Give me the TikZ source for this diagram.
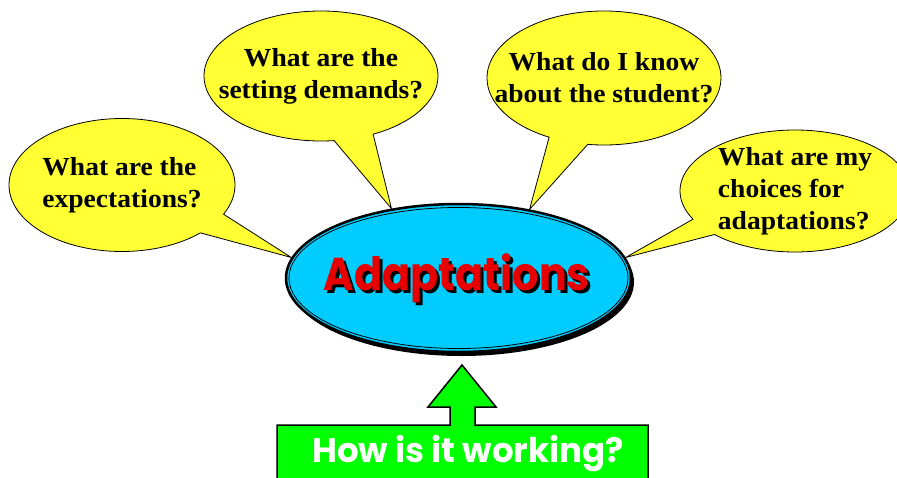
\documentclass[tikz,border=0pt]{standalone}
\usepackage{fontspec}
\setmainfont{Liberation Serif}[FakeStretch=1.06]
\newfontfamily\funfont{Poppins}[FakeStretch=0.9]
\newfontfamily\boxfont{Poppins}
\usetikzlibrary{shapes.geometric,shapes.callouts,shadows,backgrounds}
\definecolor{bubbleyellow}{RGB}{255,255,51}
\definecolor{hubcyan}{RGB}{0,204,255}
\definecolor{hubred}{RGB}{230,0,0}
\definecolor{boxgreen}{RGB}{0,255,0}

\begin{document}
\begin{tikzpicture}
[x=1pt,y=-1pt,
bubble/.style={ellipse callout,draw=black,line width=0.8pt,fill=bubbleyellow,inner xsep=-40pt,inner ysep=-20pt,
  font=\fontsize{26}{32}\selectfont\bfseries,callout pointer arc=20},
hub/.style={ellipse,draw=black,line width=2.5pt,fill=hubcyan,minimum width=345pt,minimum height=148pt,
  drop shadow={shadow xshift=3pt,shadow yshift=-4pt,fill=black,opacity=1}},
title/.style={font=\funfont\fontsize{46}{46}\selectfont\bfseries},
arrowbox/.style={draw=black,line width=1.5pt,fill=boxgreen}]

\useasboundingbox (0,0) rectangle (897,477);
\clip (0,0) rectangle (897,477);

%draw the ellipse in the middle
\node[hub] (hub) at (458.5,278) {};
\draw[line width=0.8pt] (hub.center) ellipse [x radius=169.5pt, y radius=70.5pt];
\node[title,text=black,anchor=base] (hubshadow) at (460,293) {Adaptations};
\node[title,text=hubred,anchor=base] (hubtext) at (457,290) {Adaptations};

%draw the questions behind it
\begin{scope}[on background layer]
\node[bubble,minimum width=226pt,minimum height=133pt,align=left,
  callout absolute pointer={(hub.173)}] (expect) at (122,185) {What are the\\expectations?};
\node[bubble,minimum width=234pt,minimum height=130pt,align=center,
  callout absolute pointer={(hub.134)}] (demands) at (321,76) {What are the\\setting demands?};
\node[bubble,minimum width=234pt,minimum height=134pt,align=center,
  callout absolute pointer={(hub.44)}] (student) at (604,78) {What do I know\\about the student?};
\node[bubble,minimum width=230pt,minimum height=122pt,align=left,callout pointer arc=18,
  callout absolute pointer={(hub.7)}] (choices) at (795,191) {What are my\\choices for\\adaptations?};
\end{scope}

%draw the green arrow box
\coordinate (arrowtip) at (462,365);
\draw[arrowbox] (277,490) -- (277,425) -- (450,425) -- (450,407) -- (428,407) -- (arrowtip)
  -- (496,407) -- (475,407) -- (475,425) -- (648,425) -- (648,490) -- cycle;
\node[font=\boxfont\fontsize{34}{34}\selectfont\bfseries,text=white,anchor=base] (working) at (468,462) {How is it working?};

\end{tikzpicture}
\end{document}
